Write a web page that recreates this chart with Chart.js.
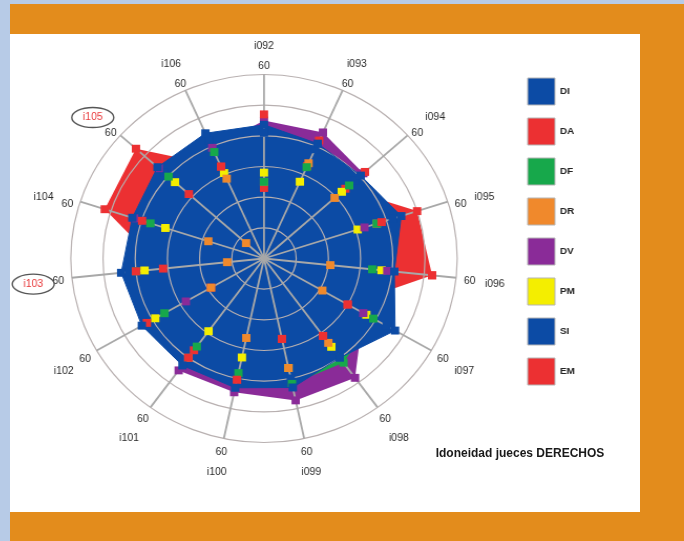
<!DOCTYPE html>
<html>
<head>
<meta charset="utf-8">
<script src="https://cdn.jsdelivr.net/npm/chart.js@4.4.1/dist/chart.umd.min.js"></script>
<style>
  html, body { margin:0; padding:0; }
  body { width:684px; height:541px; background:#b7cbe7; position:relative; overflow:hidden; font-family:"Liberation Sans", Arial, sans-serif; }
  #frame { position:absolute; left:10px; top:4px; width:674px; height:537px; background:#e38c1c; }
  #panel { position:absolute; left:10px; top:34px; width:630px; height:478px; background:#ffffff; }
  #wrap { position:absolute; left:10px; top:34px; width:600px; height:478px; transform:scaleX(1.05); transform-origin:0 0; }
  #title { position:absolute; left:420px; top:446px; width:200px; text-align:center; font-weight:bold; font-size:12px; line-height:14px; color:#1a1a1a; }
</style>
</head>
<body>
<div id="frame"></div>
<div id="panel"></div>
<div id="wrap"><canvas id="c" width="600" height="478"></canvas></div>
<div id="title">Idoneidad jueces DERECHOS</div>
<script>
// ---- data ----
const categories = ['i092','i093','i094','i095','i096','i097','i098','i099','i100','i101','i102','i103','i104','i105','i106'];
const highlighted = ['i105','i103'];
const tickLabels = ['60'];
const scaleMax = 60;

const DI = [43.6, 41, 40.4, 44.8, 40.7, 47, 40, 43, 43.1, 43.1, 43.8, 44.6, 43, 44.5, 44.7];
const DA = [47, 42.1, 42.2, 38.4, 52.5, 30, 31.2, 26.8, 40.4, 40, 42, 40, 39.8, 31.4, 32.8];
const DF = [25, 32.6, 35.6, 36.8, 33.8, 39.2, 42, 41.8, 38.2, 35.5, 35.7, 40, 37.1, 39.9, 38];
const DR = [25, 34, 29.5, 36.8, 20.7, 20.9, 34, 36.5, 26.5, 40, 19, 11.5, 18.2, 7.5, 28.5];
const DV = [45, 45, 41.5, 32.8, 38.5, 35.6, 48.1, 47.3, 44.6, 45.1, 28, 40, 42.4, 44, 39.5];
const PM = [28, 27.4, 32.5, 30.6, 36.7, 36.7, 35.6, 36.5, 33, 29.3, 39, 37.3, 32.2, 37.2, 30.5];
const SI = [41, 39, 38, 42, 38, 44, 37, 40, 40, 40, 41, 42, 40, 42, 42];
const EM = [23, 33, 34, 50, 52.5, 30, 31.2, 26.8, 40.4, 37, 19, 31.5, 52, 53.5, 32.8];

// ---- styles ----
const C = {
  blue:'#0c4ba5', red:'#ec3032', green:'#17a84b', orange:'#f0892c',
  purple:'#8a2b98', yellow:'#f4ee00'
};

function ds(label, data, color, filled) {
  return {
    label, data,
    backgroundColor: color,
    borderColor: color,
    borderWidth: 0,
    showLine: false,
    fill: filled ? 'origin' : false,
    pointStyle: 'rect',
    pointRadius: 5.6,
    pointHoverRadius: 5.6,
    pointBorderWidth: 0,
    pointBackgroundColor: color,
    pointBorderColor: color
  };
}

const datasets = [
  Object.assign(ds('DI', DI, C.blue, true), {showLine:true, borderWidth:1}),
  ds('DA', DA, C.red, false),
  ds('DF', DF, C.green, true),
  ds('DR', DR, C.orange, false),
  ds('DV', DV, C.purple, true),
  ds('PM', PM, C.yellow, false),
  ds('SI', SI, C.blue, false),
  ds('EM', EM, C.red, true)
];

const FONT = '"Liberation Sans", Arial, sans-serif';

const spokeLabels = {
  id: 'spokeLabels',
  afterDatasetsDraw(chart) {
    const r = chart.scales.r;
    const ctx = chart.ctx;
    ctx.save();
    ctx.textAlign = 'center';
    ctx.textBaseline = 'middle';
    ctx.font = '10px ' + FONT;
    categories.forEach((name, i) => {
      const a = r.getIndexAngle(i);
      const s = Math.abs(Math.sin(a));
      const up = Math.cos(a) > 0.05 ? 4.5 * s : 0;
      const shift = 2.5 + up;
      const pT = r.getPointPosition(i, r.drawingArea + 11 + 2 * s);
      const pN = r.getPointPosition(i, r.drawingArea + 31 + 6 * s);
      ctx.fillStyle = '#2a2a2a';
      ctx.fillText(tickLabels[0], pT.x, pT.y + shift);
      const hl = highlighted.includes(name);
      ctx.fillStyle = hl ? '#e8383a' : '#2a2a2a';
      ctx.fillText(name, pN.x, pN.y + shift);
      if (hl) {
        ctx.beginPath();
        ctx.ellipse(pN.x, pN.y + shift, 20, 10, 0, 0, Math.PI * 2);
        ctx.strokeStyle = '#555';
        ctx.lineWidth = 1.4;
        ctx.stroke();
      }
    });
    ctx.restore();
  }
};

Chart.defaults.font.family = FONT;

new Chart(document.getElementById('c'), {
  type: 'radar',
  data: { labels: categories, datasets },
  plugins: [spokeLabels],
  options: {
    responsive: false,
    animation: false,
    devicePixelRatio: 1,
    events: [],
    layout: { padding: { left: 0, top: 31, right: 52, bottom: 10 } },
    elements: { line: { tension: 0 } },
    plugins: {
      filler: { drawTime: 'beforeDraw' },
      tooltip: { enabled: false },
      title: { display: false },
      legend: {
        display: true,
        position: 'right',
        align: 'start',
        labels: {
          boxWidth: 26,
          boxHeight: 27,
          padding: 13,
          color: '#222',
          font: { size: 9.5, weight: 'bold', family: FONT },
          generateLabels: (chart) =>
            Chart.defaults.plugins.legend.labels.generateLabels(chart).map(l =>
              Object.assign(l, { strokeStyle: '#b5b5b5', lineWidth: 1 }))
        }
      }
    },
    scales: {
      r: {
        min: 0,
        max: scaleMax,
        ticks: { display: false, stepSize: 10 },
        pointLabels: { display: false },
        grid: { circular: true, color: '#b8b0b0', lineWidth: 1.2 },
        angleLines: { color: '#a8a8a8', lineWidth: 1.8 },
        afterFit: (scale) => {
          scale.xCenter = 241.9;
          scale.yCenter = 224.5;
          scale.drawingArea = 184;
        }
      }
    }
  }
});
</script>
</body>
</html>
